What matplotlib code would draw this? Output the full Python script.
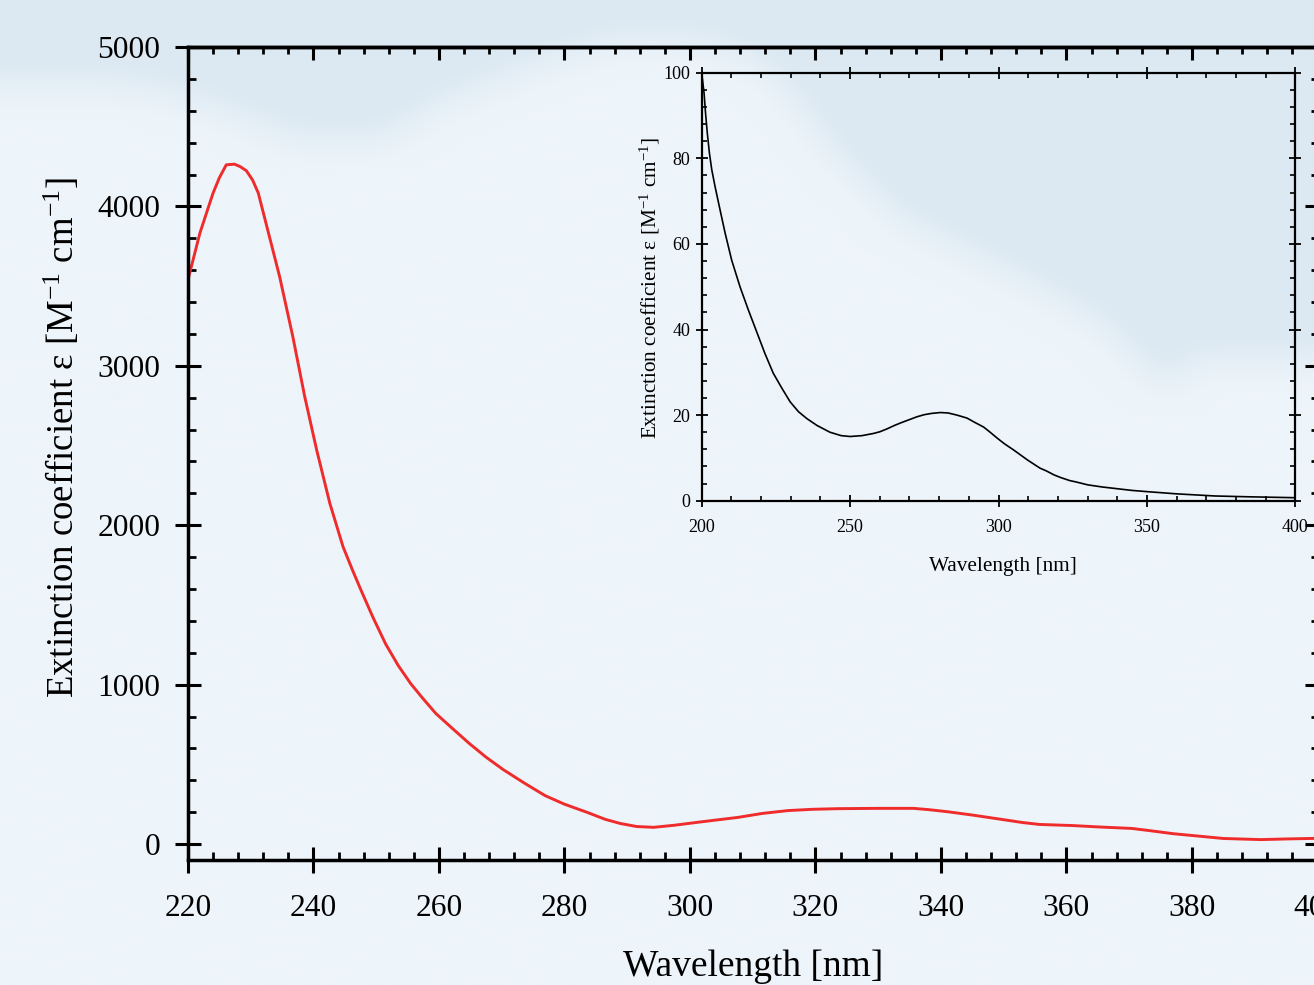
import numpy as np
import matplotlib
matplotlib.use("Agg")
import matplotlib.pyplot as plt
from matplotlib.path import Path
from matplotlib.ticker import MultipleLocator

plt.rcParams['font.family'] = ['Liberation Serif', 'DejaVu Serif']
plt.rcParams['mathtext.fontset'] = 'custom'
plt.rcParams['mathtext.rm'] = 'Liberation Serif'
plt.rcParams['mathtext.it'] = 'Liberation Serif:italic'

# main spectrum (red)
main_wl = [220, 221.9, 223, 224, 225, 226.1, 227.4, 228.3, 229.3, 230.3,
           231.2, 232.7, 234.6, 236.7, 238.6, 240.5, 242.6, 244.7, 246.2, 247.6,
           249.5, 251.5, 253.5, 255.5, 257.5, 259.5, 262, 264.8, 267.5, 270.2,
           273.5, 276.9, 280, 283.6, 286.5, 288.9, 291.5, 294.2, 297.5, 300.9,
           304, 307.6, 311.5, 315.6, 319.5, 323.6, 330, 335.6, 338, 341,
           345, 350.3, 353, 355.7, 358, 361, 365.3, 370.4, 373.5, 377,
           381, 385, 391, 395, 400]
main_eps = [3540, 3833, 3965, 4084, 4180, 4261, 4265, 4250, 4224, 4165,
            4084, 3853, 3560, 3184, 2807, 2473, 2138, 1866, 1720, 1590,
            1420, 1255, 1120, 1006, 910, 819, 730, 632, 545, 468,
            385, 304, 250, 199, 155, 129, 110, 105, 118, 135,
            150, 167, 192, 210, 218, 222, 224, 224, 216, 203,
            182, 151, 135, 123, 120, 116, 107, 98, 83, 65,
            50, 35, 28, 32, 36]

# inset spectrum (black)
inset_wl = [200, 200.8, 201.3, 201.9, 202.6, 203.4, 204.5, 206.2, 207.9, 210.1,
            212.9, 215.7, 218.5, 221.3, 224.1, 227, 229.8, 232.6, 235.4, 238.8,
            243.2, 247, 250, 254, 257.8, 260, 262.5, 265, 267.5, 270.2,
            272.5, 275, 277.5, 280.4, 283, 286, 289.4, 292, 295, 297,
            299.6, 302, 305, 307, 309.8, 312, 314, 316, 318.8, 321,
            324, 326, 330.1, 335, 340, 345, 350.4, 360, 373, 385,
            400]
inset_eps = [100, 95.2, 90.5, 85.8, 81.2, 77.3, 73.4, 67.9, 62.5, 56.2,
             50.0, 44.6, 39.5, 34.4, 29.8, 26.3, 23.1, 20.8, 19.2, 17.6,
             16.0, 15.2, 15.0, 15.2, 15.7, 16.1, 16.8, 17.6, 18.3, 19.0,
             19.6, 20.1, 20.4, 20.6, 20.5, 20.0, 19.3, 18.3, 17.2, 16.1,
             14.6, 13.3, 11.9, 10.9, 9.5, 8.5, 7.6, 7.0, 6.0, 5.4,
             4.7, 4.4, 3.7, 3.2, 2.8, 2.4, 2.1, 1.6, 1.1, 0.9,
             0.7]

W, H = 1314, 985
fig = plt.figure(figsize=(W / 100, H / 100), dpi=100)


def blur(a, n):
    p = n // 2
    a = np.pad(a, p, mode='edge')
    k = np.ones(n) / n
    a = np.apply_along_axis(lambda r: np.convolve(r, k, mode='valid'), 1, a)
    a = np.apply_along_axis(lambda c: np.convolve(c, k, mode='valid'), 0, a)
    return a


# soft sky-like background
bg = fig.add_axes([0, 0, 1, 1], zorder=-10)
step = 4
gx, gy = np.meshgrid(np.arange(0, W, step) + step / 2, np.arange(0, H, step) + step / 2)
pts = np.column_stack([gx.ravel(), gy.ravel()])
poly_top = [(-50, -50), (W + 50, -50), (W + 50, 45), (1000, 50), (800, 45), (620, 40), (540, 65),
            (450, 100), (380, 140), (300, 140), (220, 110), (150, 88), (60, 82), (-50, 85)]
poly_right = [(720, 45), (W + 50, 45), (W + 50, 362), (1200, 360), (1172, 385), (1150, 372),
              (1100, 322), (1010, 272), (896, 216), (837, 154), (773, 73)]
mask = np.zeros(gx.shape)
for poly in (poly_top, poly_right):
    mask = np.maximum(mask, Path(poly).contains_points(pts).reshape(gx.shape))
mask = blur(blur(mask, 9), 9)
light = np.array([237, 244, 250]) / 255
dark = np.array([220, 233, 242]) / 255
img = light + (dark - light) * mask[..., None]
bg.imshow(np.clip(img, 0, 1), extent=(0, W, H, 0), aspect='auto', interpolation='bilinear')
bg.set_xlim(0, W)
bg.set_ylim(H, 0)
bg.set_axis_off()

# main axes
ax = fig.add_axes([188 / W, 1 - 860 / H, 1129.5 / W, 813 / H])
ax.set_facecolor('none')
ax.plot(main_wl, main_eps, color='#ef2b2b', lw=2.1)
ax.set_xlim(220, 400)
ax.set_ylim(-100, 5000)
ax.xaxis.set_major_locator(MultipleLocator(20))
ax.xaxis.set_minor_locator(MultipleLocator(4))
ax.yaxis.set_major_locator(MultipleLocator(1000))
ax.yaxis.set_minor_locator(MultipleLocator(200))
ax.tick_params(which='major', direction='inout', length=18.7, width=2.2, labelsize=22.7)
ax.tick_params(axis='y', which='major', pad=10.5)
ax.tick_params(axis='x', which='major', pad=15)
ax.tick_params(which='minor', direction='in', length=5.8, width=2)
for s in ax.spines.values():
    s.set_linewidth(2.5)

secx = ax.secondary_xaxis('top')
secx.xaxis.set_major_locator(MultipleLocator(20))
secx.xaxis.set_minor_locator(MultipleLocator(4))
secx.tick_params(which='major', direction='in', length=9.4, width=2.2, labeltop=False)
secx.tick_params(which='minor', direction='in', length=5.2, width=2)
secx.spines['top'].set_linewidth(2.5)

secy = ax.secondary_yaxis('right')
secy.yaxis.set_major_locator(MultipleLocator(1000))
secy.yaxis.set_minor_locator(MultipleLocator(200))
secy.tick_params(which='major', direction='in', length=9.4, width=2.2, labelright=False)
secy.tick_params(which='minor', direction='in', length=5.2, width=2)

fig.text(753.5 / W, 1 - 976 / H, 'Wavelength [nm]', fontsize=27, ha='center', va='baseline')
fig.text(62 / W, 1 - 437.5 / H, r'Extinction coefficient ε [M$^{-1}$ cm$^{-1}$]',
         fontsize=26.5, rotation=90, ha='center', va='center')

# inset
axi = fig.add_axes([701.7 / W, 1 - 500.7 / H, 593.6 / W, 428 / H])
axi.set_facecolor('none')
axi.plot(inset_wl, inset_eps, color='black', lw=1.2)
axi.set_xlim(200, 400)
axi.set_ylim(0, 100)
axi.xaxis.set_major_locator(MultipleLocator(50))
axi.xaxis.set_minor_locator(MultipleLocator(10))
axi.yaxis.set_major_locator(MultipleLocator(20))
axi.yaxis.set_minor_locator(MultipleLocator(4))
axi.tick_params(which='both', top=True, right=True)
axi.tick_params(which='major', direction='inout', length=8.6, width=1.3, labelsize=13, pad=4)
axi.tick_params(axis='x', which='major', pad=9)
axi.tick_params(which='minor', direction='in', length=3.6, width=1.2)
for s in axi.spines.values():
    s.set_linewidth(1.6)

fig.text(1003 / W, 1 - 566 / H, 'Wavelength [nm]', fontsize=15.3, ha='center', va='center')
fig.text(650 / W, 1 - 288 / H, r'Extinction coefficient ε [M$^{-1}$ cm$^{-1}$]',
         fontsize=15.3, rotation=90, ha='center', va='center')

fig.savefig('out.png', dpi=100)
